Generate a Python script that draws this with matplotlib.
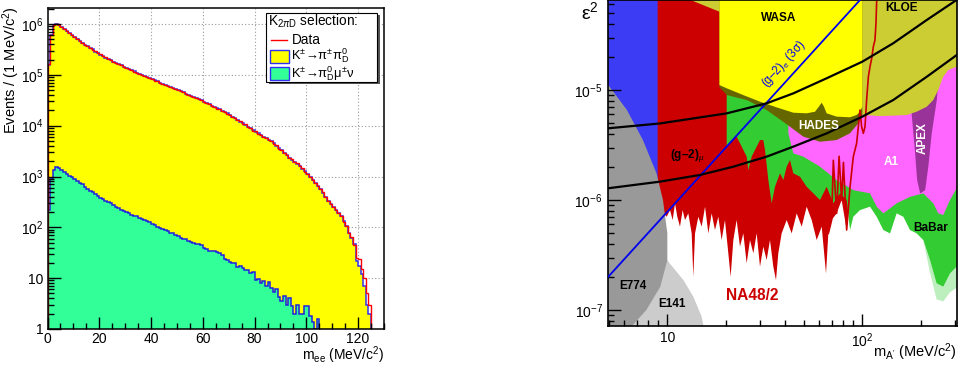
import numpy as np
import matplotlib
matplotlib.use("Agg")
import matplotlib.pyplot as plt
import matplotlib.ticker as mticker
from matplotlib.patches import Rectangle
from matplotlib.lines import Line2D

plt.rcParams['font.family'] = ['Liberation Sans', 'DejaVu Sans']
plt.rcParams['mathtext.fontset'] = 'custom'
plt.rcParams['mathtext.rm'] = 'Liberation Sans'
plt.rcParams['mathtext.it'] = 'Liberation Sans:italic'
plt.rcParams['mathtext.bf'] = 'Liberation Sans:bold'
plt.rcParams['mathtext.sf'] = 'Liberation Sans'

# ---------------- left panel: m_ee spectra (1 MeV/c^2 bins from 0) ----------------
mee_bin_width = 1.0
k2pi_dalitz_mc = [158000, 603000, 955000, 1000000, 955000, 871000, 794000, 724000, 661000, 603000,
                  562000, 513000, 468000, 427000, 389000, 363000, 339000, 316000, 288000, 269000,
                  251000, 234000, 219000, 209000, 195000, 182000, 174000, 162000, 155000, 145000,
                  138000, 132000, 123000, 117000, 110000, 105000, 100000, 95500, 91200, 85100,
                  81300, 77600, 74100, 69200, 66100, 63100, 60300, 57500, 55000, 52500,
                  50100, 47900, 45700, 42700, 40700, 38900, 37200, 34700, 33100, 31600,
                  29500, 28200, 26300, 24500, 23400, 21900, 20900, 19500, 18200, 17400,
                  16200, 15100, 14100, 12900, 12000, 11200, 10500, 9550, 8910, 8130,
                  7590, 7080, 6610, 6030, 5620, 5250, 4900, 4470, 4070, 3630,
                  3310, 2950, 2630, 2340, 2140, 1950, 1780, 1620, 1410, 1260,
                  1120, 977, 851, 741, 646, 575, 479, 398, 331, 288,
                  251, 219, 191, 166, 132, 105, 79, 63, 46, 22,
                  17, 12, 7, 3, 2]
k2pi_data = [160000, 598000, 960000, 1002000, 951000, 868000, 797000, 722000, 663000, 600000,
             563000, 512000, 469000, 426000, 390000, 362000, 340000, 315000, 289000, 268000,
             252000, 233000, 220000, 208000, 196000, 181000, 175000, 161000, 156000, 144000,
             139000, 131000, 124000, 116000, 111000, 104000, 101000, 95000, 91500, 85000,
             81500, 77300, 74300, 69000, 66300, 62900, 60500, 57300, 55200, 52300,
             50300, 47700, 45900, 42500, 40900, 38700, 37400, 34500, 33300, 31400,
             29700, 28000, 26500, 24300, 23600, 21700, 21100, 19300, 18400, 17200,
             16400, 14900, 14300, 12700, 12200, 11000, 10700, 9400, 9050, 8000,
             7700, 6950, 6700, 5950, 5700, 5150, 5000, 4400, 4150, 3550,
             3380, 2900, 2680, 2300, 2180, 1920, 1810, 1590, 1440, 1240,
             1140, 960, 865, 730, 655, 560, 485, 392, 335, 285,
             248, 222, 188, 170, 128, 108, 76, 66, 44, 25,
             24, 15, 10, 5, 3]
kmu3_dalitz_mc = [224, 891, 1318, 1514, 1445, 1318, 1230, 1122, 1047, 977,
                  912, 832, 759, 708, 631, 575, 525, 490, 447, 417,
                  380, 363, 331, 309, 295, 275, 257, 240, 224, 209,
                  200, 191, 178, 170, 166, 155, 148, 138, 132, 126,
                  117, 112, 102, 98, 93, 89, 83, 79, 78, 72,
                  69, 63, 60, 58, 55, 52, 50, 48, 46, 45,
                  40, 38, 35, 35, 34, 33, 31, 28, 24, 23,
                  21, 19.5, 20, 16.6, 17.4, 15.8, 14.5, 14.8, 12.6, 13.2,
                  9.1, 9.5, 7.9, 8.9, 7.1, 8.5, 6.3, 5.4, 6.0, 4.2,
                  3.5, 4.4, 3.0, 4.0, 2.8, 2.0, 3.0, 2.0, 2.0, 2.8,
                  2.8, 1.8, 1.4, 1.0, 1.6, 0, 0, 0, 0, 0,
                  0, 0, 0, 0, 0, 0, 0, 0, 0, 0,
                  0, 0, 0, 0, 0]
left_ytick_values = [1, 10, 1e2, 1e3, 1e4, 1e5, 1e6]
left_ytick_labels = ['1', '10', '$10^{2}$', '$10^{3}$', '$10^{4}$', '$10^{5}$', '$10^{6}$']
left_xtick_values = [0, 20, 40, 60, 80, 100, 120]

# ---------------- right panel: exclusion regions in (m_A' [MeV], eps^2) ----------------
blue_mass = [4.0, 8.92, 8.92, 4.0]
blue_eps2 = [5e-8, 5e-8, 1e-4, 1e-4]

na48_mass = [8.92, 8.92, 9.35, 9.61, 9.92, 10.32, 10.65, 10.95, 11.25, 11.61, 11.98, 12.32, 12.81,
             13.33, 13.59, 13.87, 14.42, 15.0, 15.61, 16.23, 16.88, 17.55, 18.26, 18.99, 19.75,
             20.55, 21.12, 21.8, 22.67, 23.58, 24.53, 25.52, 26.54, 27.61, 28.72, 29.87, 31.07,
             32.31, 33.61, 34.96, 36.08, 37.08, 38.57, 40.93, 43.42, 46.07, 48.88, 51.84, 55.0,
             58.34, 61.9, 65.14, 66.95, 69.6, 73.85, 78.34, 83.12, 86.5, 89.9, 93.5, 97.3, 99.2,
             101.2, 103.2, 105.2, 107.4, 109.5, 111.7, 113.9, 116.1, 117.5, 118.5, 119.2]
na48_eps2 = [1e-4, 1.15e-6, 1.0e-6, 7.57e-7, 7.05e-7, 8.1e-7, 6.58e-7, 9.33e-7, 7.05e-7, 5.73e-7,
             8.1e-7, 6.58e-7, 7.57e-7, 4.98e-7, 2.01e-7, 4.98e-7, 7.05e-7, 5.73e-7, 8.7e-7, 4.98e-7,
             7.57e-7, 5.34e-7, 7.05e-7, 4.33e-7, 6.58e-7, 3.28e-7, 2.01e-7, 4.33e-7, 6.58e-7,
             3.77e-7, 4.98e-7, 2.66e-7, 4.33e-7, 3.28e-7, 4.98e-7, 2.48e-7, 3.77e-7, 2.85e-7,
             4.33e-7, 2.48e-7, 1.87e-7, 3.28e-7, 4.98e-7, 6.58e-7, 4.98e-7, 7.57e-7, 5.73e-7,
             8.7e-7, 6.58e-7, 4.33e-7, 5.73e-7, 2.15e-7, 4.98e-7, 6.58e-7, 7.57e-7, 1.0e-6,
             5.34e-7, 1.32e-6, 2.48e-6, 3.28e-6, 6.58e-6, 4.64e-6, 4.04e-6, 4.64e-6, 8.11e-6,
             1.32e-5, 1.63e-5, 1.94e-5, 2.48e-5, 2.85e-5, 4.04e-5, 6.58e-5, 1e-4]
# visible upper edge of the NA48/2 region below BaBar (20-83 MeV)
na48_top_mass = [20.15, 21.8, 22.67, 24.06, 25.52, 26.03, 27.07, 28.72, 29.87, 31.07, 31.69,
                 32.96, 34.28, 35.65, 37.83, 39.35, 40.93, 42.56, 44.26, 47.88, 51.84, 56.08,
                 60.67, 65.62, 71.02, 76.8, 83.12]
na48_top_eps2 = [3.06e-6, 3.51e-6, 3.77e-6, 3.06e-6, 2.48e-6, 1.87e-6, 2.48e-6, 3.06e-6, 3.51e-6,
                 3.51e-6, 2.85e-6, 1.52e-6, 9.33e-7, 1.32e-6, 1.75e-6, 1.52e-6, 2.01e-6, 2.31e-6,
                 1.75e-6, 1.63e-6, 1.32e-6, 1.15e-6, 1.0e-6, 1.32e-6, 9.33e-7, 1.15e-6, 1.0e-6]
babar_low_mass = [86.5, 89.9, 97.3, 109.5, 118.5, 128.2, 138.7, 150.0, 162.3, 175.6, 189.9,
                  205.5, 222.3, 240.4, 260.2, 281.6, 304.8, 330.0]
babar_low_eps2 = [5.34e-7, 7.05e-7, 8.1e-7, 8.7e-7, 7.05e-7, 5.34e-7, 4.98e-7, 7.57e-7, 7.05e-7,
                  5.34e-7, 4.98e-7, 4.33e-7, 2.85e-7, 1.75e-7, 1.63e-7, 2.15e-7, 2.48e-7, 2.48e-7]
# faint fringe below the BaBar limit at high mass
babar_fringe_mass = [205.5, 222.3, 240.4, 260.2, 281.6, 304.8, 330.0, 330.0, 304.8, 281.6, 260.2,
                     240.4, 222.3]
babar_fringe_eps2 = [4.33e-7, 2.85e-7, 1.75e-7, 1.63e-7, 2.15e-7, 2.48e-7, 2.48e-7, 1.6e-7, 1.6e-7,
                     1.45e-7, 1.2e-7, 1.25e-7, 2.2e-7]
a1_mass = [41.74, 41.74, 44.26, 49.83, 60.67, 73.85, 89.9, 109.5, 118.5, 128.2, 150.0, 175.6,
           205.5, 231.2, 245.3, 260.2, 281.6, 304.8, 330.0, 330.0]
a1_eps2 = [1e-4, 4.04e-6, 2.66e-6, 2.48e-6, 2.01e-6, 1.52e-6, 1.23e-6, 1.15e-6, 8.7e-7, 7.57e-7,
           9.33e-7, 1.07e-6, 1.15e-6, 9.33e-7, 7.57e-7, 7.31e-7, 1.0e-6, 1.28e-6, 1.4e-6, 1e-4]
apex_mass = [179, 179, 186, 191, 198, 210, 218, 227, 241, 245, 245]
apex_eps2 = [3e-5, 6.1e-6, 2.85e-6, 1.52e-6, 1.15e-6, 1.23e-6, 2.01e-6, 4.04e-6, 8.1e-6, 1.15e-5, 3e-5]
hades_mass = [18.5, 18.5, 20.2, 25.5, 32.3, 42.6, 49.8, 60.7, 73.8, 86.4, 95.4, 100, 100]
hades_eps2 = [1e-4, 1.06e-5, 9.0e-6, 8.11e-6, 6.58e-6, 4.64e-6, 3.77e-6, 3.39e-6, 3.51e-6, 4.04e-6,
              4.98e-6, 5.93e-6, 1e-4]
kloe_mass = [12.5, 13.1, 18.5, 29.9, 97.0, 100, 123, 144, 169, 190, 214, 231, 245, 260, 276, 305,
             330, 330]
kloe_eps2 = [1e-4, 6.6e-5, 5.15e-5, 2.31e-5, 8.0e-6, 5.93e-6, 5.8e-6, 5.85e-6, 5.93e-6, 6.35e-6,
             7.05e-6, 8.1e-6, 1.0e-5, 1.32e-5, 1.52e-5, 1.63e-5, 1.65e-5, 1e-4]
wasa_mass = [18.5, 18.5, 20.2, 24.5, 29.9, 36.4, 44.3, 51.8, 57.2, 60.2, 61.9, 63.6, 65.6, 73.8,
             86.4, 93.5, 97.3, 100, 100]
wasa_eps2 = [1e-4, 1.11e-5, 1.035e-5, 9.0e-6, 7.83e-6, 6.95e-6, 6.22e-6, 6.14e-6, 6.35e-6, 7.16e-6,
             7.67e-6, 7.05e-6, 6.14e-6, 5.73e-6, 5.65e-6, 5.93e-6, 6.35e-6, 7.05e-6, 1e-4]
e141_mass = [4.0, 10.0, 10.3, 12.1, 13.6, 15.0, 15.6, 15.8, 4.0]
e141_eps2 = [2.85e-7, 2.85e-7, 2.65e-7, 1.87e-7, 1.32e-7, 8.7e-8, 6e-8, 5e-8, 5e-8]
e774_mass = [4.0, 4.98, 6.2, 7.5, 8.8, 9.5, 10.0, 10.0, 9.2, 7.8, 6.6, 6.0, 4.0]
e774_eps2 = [1.11e-5, 1.11e-5, 6.6e-6, 3.5e-6, 1.75e-6, 1.0e-6, 5.0e-7, 2.85e-7, 1.63e-7, 1.0e-7,
             7.2e-8, 5e-8, 5e-8]
# NA48/2 upper-limit curve drawn on top near the kinematic end
na48_line_mass = [66.95, 69.6, 71.0, 73.85, 76.0, 78.34, 80.0, 83.12, 86.5, 89.9, 93.5, 97.3, 99.2,
                  101.2, 103.2, 105.2, 107.4, 109.5, 111.7, 113.9, 116.1, 117.5, 118.5, 119.2]
na48_line_eps2 = [4.98e-7, 6.58e-7, 2.3e-6, 7.57e-7, 2.5e-6, 1.0e-6, 2.2e-6, 5.34e-7, 1.32e-6,
                  2.48e-6, 3.28e-6, 6.58e-6, 4.64e-6, 4.04e-6, 4.64e-6, 8.11e-6, 1.32e-5, 1.63e-5,
                  1.94e-5, 2.48e-5, 2.85e-5, 4.04e-5, 6.58e-5, 1e-4]
ge_mass = [4.98, 100]
ge_eps2 = [2.01e-7, 6.94e-5]
gmu_up_mass = [4.98, 9.18, 20.2, 32.3, 44.3, 65.7, 100, 144, 214, 305]
gmu_up_eps2 = [4.49e-6, 4.97e-6, 6.14e-6, 7.57e-6, 9.33e-6, 1.28e-5, 1.81e-5, 2.66e-5, 4.33e-5, 6.6e-5]
gmu_lo_mass = [4.98, 9.18, 14.7, 21.8, 32.3, 44.3, 65.7, 100, 144, 214, 305]
gmu_lo_eps2 = [1.28e-6, 1.47e-6, 1.69e-6, 2.01e-6, 2.48e-6, 3.06e-6, 4.04e-6, 5.73e-6, 8.11e-6,
               1.32e-5, 2.08e-5]

W, H = 958, 366
fig = plt.figure(figsize=(W / 100, H / 100), dpi=100)
fx = lambda x: x / W
fy = lambda y: 1 - y / H

# ======================= LEFT PANEL =======================
ax1 = fig.add_axes([fx(47.5), fy(329), fx(384) - fx(47.5), fy(8.3) - fy(329)])
edges = np.arange(len(k2pi_dalitz_mc) + 1) * mee_bin_width
floor = 1e-2
yel = np.where(np.array(k2pi_dalitz_mc) > 0, k2pi_dalitz_mc, floor)
grn = np.where(np.array(kmu3_dalitz_mc) > 0, kmu3_dalitz_mc, floor)
dat = np.where(np.array(k2pi_data) > 0, k2pi_data, floor)

ax1.set_yscale('log')
ax1.set_xlim(0, 130)
ax1.set_ylim(1, 2.04e6)
for xv in left_xtick_values[1:]:
    ax1.axvline(xv, color='#9a9a9a', lw=0.8, ls=(0, (1, 2)), zorder=0.5)
for yv in left_ytick_values[1:]:
    ax1.axhline(yv, color='#9a9a9a', lw=0.8, ls=(0, (1, 2)), zorder=0.5)

ax1.stairs(yel, edges, baseline=floor, fill=True, color='#ffff00', zorder=1)
ax1.stairs(yel, edges, baseline=floor, color='#3030f0', lw=1.1, zorder=1.2)
ax1.stairs(grn, edges, baseline=floor, fill=True, color='#33ff99', zorder=1.3)
ax1.stairs(grn, edges, baseline=floor, color='#2020e0', lw=1.1, zorder=1.4)
ax1.stairs(dat, edges, baseline=floor, color='#ff0000', lw=1.0, zorder=1.45)

ax1.yaxis.set_major_locator(mticker.FixedLocator(left_ytick_values))
ax1.yaxis.set_major_formatter(mticker.FixedFormatter(left_ytick_labels))
ax1.yaxis.set_minor_locator(mticker.LogLocator(base=10, subs=np.arange(2, 10)))
ax1.yaxis.set_minor_formatter(mticker.NullFormatter())
ax1.xaxis.set_major_locator(mticker.FixedLocator(left_xtick_values))
ax1.xaxis.set_minor_locator(mticker.MultipleLocator(5))
ax1.tick_params(which='both', direction='in', top=False, right=False, labelsize=10, width=1.0)
ax1.tick_params(which='major', length=9, pad=3)
ax1.tick_params(axis='x', which='major', pad=2)
ax1.tick_params(which='minor', length=4.5)
for sp in ax1.spines.values():
    sp.set_linewidth(1.1)

fig.text(fx(384), fy(366), 'm$_{\\mathrm{ee}}$ (MeV/c$^{2}$)', ha='right', va='bottom', fontsize=10)
fig.text(fx(11), fy(6), 'Events / (1 MeV/c$^{2}$)', rotation=90, ha='center', va='top', fontsize=10.5)

# legend (ROOT style box)
fig.patches.append(Rectangle((fx(268.5), fy(84)), fx(379.5) - fx(268.5), fy(15) - fy(84),
                             transform=fig.transFigure, facecolor='#555555', edgecolor='none', zorder=9))
fig.patches.append(Rectangle((fx(266), fy(81.5)), fx(377) - fx(266), fy(13) - fy(81.5),
                             transform=fig.transFigure, facecolor='white', edgecolor='black', lw=0.8, zorder=10))
fig.text(fx(268.5), fy(21.5), 'K$_{2\\pi\\mathrm{D}}$ selection:', ha='left', va='center', fontsize=9.8, zorder=11)
fig.lines.append(Line2D([fx(270.5), fx(287)], [fy(39.5), fy(39.5)], transform=fig.transFigure,
                        color='#ff0000', lw=1.0, zorder=11))
fig.text(fx(292), fy(39.5), 'Data', ha='left', va='center', fontsize=9.8, zorder=11)
fig.patches.append(Rectangle((fx(270), fy(62.5)), fx(289) - fx(270), fy(50) - fy(62.5), transform=fig.transFigure,
                             facecolor='#ffff00', edgecolor='#3030f0', lw=1.0, zorder=11))
fig.text(fx(291), fy(55.5), 'K$^{\\pm}$\u2192\u03c0$^{\\pm}$\u03c0$^{0}_{\\mathrm{D}}$', ha='left', va='center',
         fontsize=9.3, zorder=11)
fig.patches.append(Rectangle((fx(270), fy(79.5)), fx(289) - fx(270), fy(67) - fy(79.5), transform=fig.transFigure,
                             facecolor='#33ff99', edgecolor='#3030f0', lw=1.0, zorder=11))
fig.text(fx(291), fy(73.5), 'K$^{\\pm}$\u2192\u03c0$^{0}_{\\mathrm{D}}$\u03bc$^{\\pm}$\u03bd', ha='left', va='center',
         fontsize=9.3, zorder=11)

# ======================= RIGHT PANEL =======================
ax2 = fig.add_axes([fx(608.3), fy(325.7), fx(956.7) - fx(608.3), fy(0) - fy(325.7)])
ax2.set_xscale('log')
ax2.set_yscale('log')
ax2.set_xlim(4.98, 304.8)
ax2.set_ylim(7.21e-8, 6.58e-5)

ax2.fill(blue_mass, blue_eps2, color='#3c3cf5', lw=0, zorder=1)
ax2.fill(na48_mass, na48_eps2, color='#cc0000', lw=0, zorder=1.01)
green_mass = [20.15] + na48_top_mass + babar_low_mass + [330.0, 330.0, 20.15]
green_eps2 = [1e-4] + na48_top_eps2 + babar_low_eps2 + [2.48e-7, 1e-4, 1e-4]
ax2.fill(babar_fringe_mass, babar_fringe_eps2, color='#bdeebd', lw=0, zorder=1.015)
ax2.fill(green_mass, green_eps2, color='#33cc33', lw=0, zorder=1.02)
ax2.fill(a1_mass, a1_eps2, color='#ff66ff', lw=0, zorder=1.03)
ax2.fill(apex_mass, apex_eps2, color='#993399', lw=0, zorder=1.04)
ax2.fill(kloe_mass, kloe_eps2, color='#cccc33', lw=0, zorder=1.05)
ax2.fill(hades_mass, hades_eps2, color='#666600', lw=0, zorder=1.06)
ax2.fill(wasa_mass, wasa_eps2, color='#ffff00', lw=0, zorder=1.07)
ax2.fill(e141_mass, e141_eps2, color='#cccccc', lw=0, zorder=1.08)
ax2.fill(e774_mass, e774_eps2, color='#999999', lw=0, zorder=1.09)
ax2.plot(na48_line_mass, na48_line_eps2, color='#cc0000', lw=1.2, zorder=1.1)

ax2.plot(ge_mass, ge_eps2, color='#0000ee', lw=1.3, zorder=3)
ax2.plot(gmu_up_mass, gmu_up_eps2, color='black', lw=1.6, zorder=3)
ax2.plot(gmu_lo_mass, gmu_lo_eps2, color='black', lw=1.6, zorder=3)

ax2.xaxis.set_major_locator(mticker.FixedLocator([10, 100]))
ax2.xaxis.set_major_formatter(mticker.FixedFormatter(['10', '$10^{2}$']))
ax2.xaxis.set_minor_locator(mticker.LogLocator(base=10, subs=np.arange(2, 10)))
ax2.xaxis.set_minor_formatter(mticker.NullFormatter())
ax2.yaxis.set_major_locator(mticker.FixedLocator([1e-7, 1e-6, 1e-5]))
ax2.yaxis.set_major_formatter(mticker.FixedFormatter(['$10^{-7}$', '$10^{-6}$', '$10^{-5}$']))
ax2.yaxis.set_minor_locator(mticker.LogLocator(base=10, subs=np.arange(2, 10)))
ax2.yaxis.set_minor_formatter(mticker.NullFormatter())
ax2.tick_params(which='both', direction='in', top=False, right=False, labelsize=10, width=1.0)
ax2.tick_params(which='major', length=9, pad=4)
ax2.tick_params(which='minor', length=4.5)
for sp in ax2.spines.values():
    sp.set_linewidth(1.2)

def atext(x, y, s, **kw):
    ax2.text((x - 608.3) / 348.4, (325.7 - y) / 325.7, s, transform=ax2.transAxes, ha='center',
             va='center', zorder=5, **kw)

atext(778.3, 18.3, 'WASA', fontsize=8.5, fontweight='bold')
atext(901.7, 8.3, 'KLOE', fontsize=8.5, fontweight='bold')
atext(818.3, 126, 'HADES', fontsize=8.5, fontweight='bold', color='white')
atext(922.7, 138.3, 'APEX', fontsize=8.5, fontweight='bold', color='white', rotation=90)
atext(891.7, 161.7, 'A1', fontsize=8.5, fontweight='bold', color='white')
atext(930.7, 228.3, 'BaBar', fontsize=8.5, fontweight='bold')
atext(633.3, 285.7, 'E774', fontsize=8.5, fontweight='bold')
atext(671.7, 304.3, 'E141', fontsize=8.5, fontweight='bold')
atext(752.7, 295, 'NA48/2', fontsize=11.2, fontweight='bold', color='#cc0000')
atext(687, 155, '(g\u20132)$_{\\mu}$', fontsize=8.5, fontweight='bold')
atext(784, 64, '(g\u20132)$_{\\mathrm{e}}$ (3\u03c3)', fontsize=8.5, color='#0000ee', rotation=47.7,
      rotation_mode='anchor')

fig.text(fx(590), fy(12), '\u03b5$^{2}$', ha='center', va='center', fontsize=14)
fig.text(fx(957), fy(352), 'm$_{\\mathrm{A\'}}$ (MeV/c$^{2}$)', ha='right', va='center', fontsize=10.5)

fig.savefig('out.png', dpi=100)
